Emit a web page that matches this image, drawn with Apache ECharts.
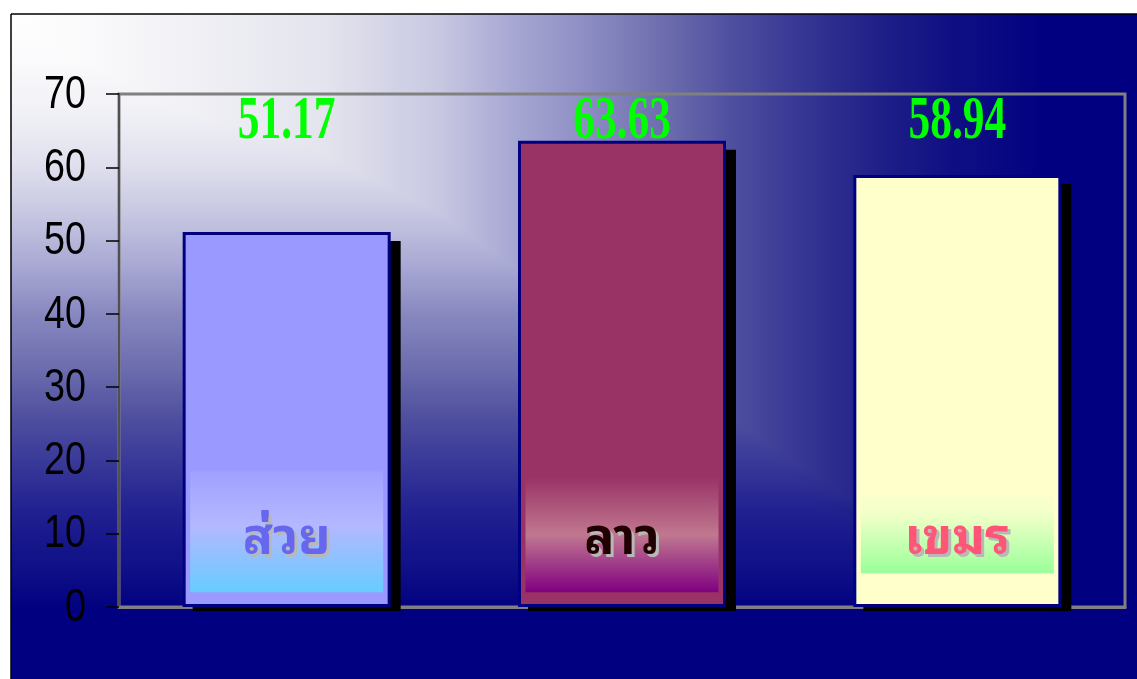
<!DOCTYPE html>
<html>
<head>
<meta charset="utf-8">
<script src="https://cdn.jsdelivr.net/npm/echarts@6/dist/echarts.min.js"></script>
<style>
html,body{margin:0;padding:0;background:#fff;}
#chart{width:1137px;height:679px;}
</style>
</head>
<body>
<div id="chart"></div>
<script>
// ---- data ----
var categories = ['ส่วย', 'ลาว', 'เขมร'];
var values = [51.17, 63.63, 58.94];
var yTicks = [0, 10, 20, 30, 40, 50, 60, 70];

// ---- styling ----
var barColors = ['#9999ff', '#993366', '#ffffcc'];
var boxStyles = [
  {top: 18.5, bottom: 2.0, stops: [['#a0a0ff', 0], ['#b4b8ff', 0.45], ['#66ccff', 1]], text: '#6666ee'},
  {top: 17.7, bottom: 2.0, stops: [['#993366', 0], ['#c07890', 0.5], ['#800080', 1]], text: '#200000'},
  {top: 15.9, bottom: 4.6, stops: [['#ffffcc', 0], ['#f0ffc8', 0.3], ['#99ff99', 1]], text: '#ff5577'}
];

var W = 1137, H = 679;
var bgL = 11, bgT = 14;
var ox = 12, oy = 14;

function stops(arr) {
  return arr.map(function (s) { return {offset: s[0], color: s[1]}; });
}
var hGrad = new echarts.graphic.LinearGradient(ox, 0, ox + 1040, 0, stops([
  [0, '#ffffff'], [0.093, '#f8f8fa'], [0.30, '#e4e4ee'], [0.41, '#c8c8e2'],
  [0.48, '#a8a8d4'], [0.55, '#8e8ec4'], [0.62, '#7070b0'], [0.69, '#5050a0'],
  [0.76, '#363694'], [0.83, '#202088'], [0.90, '#101084'], [1, '#000080']
]), true);
var vGrad = new echarts.graphic.LinearGradient(0, oy, 0, oy + 600, stops([
  [0, '#ffffff'], [0.08, '#fafafc'], [0.167, '#f0f0f6'], [0.25, '#e0e0ee'],
  [0.33, '#c8c8e2'], [0.42, '#a8a8d4'], [0.5, '#8888c0'], [0.58, '#7070b0'],
  [0.67, '#5050a0'], [0.75, '#383898'], [0.83, '#202090'], [0.92, '#101088'], [1, '#000080']
]), true);

var chart = echarts.init(document.getElementById('chart'));

chart.setOption({
  animation: false,
  graphic: [
    {
      type: 'rect', z: -100,
      shape: {x: bgL, y: bgT, width: W - bgL, height: H - bgT},
      style: {fill: hGrad}
    },
    {
      type: 'rect', z: -99,
      shape: {x: bgL, y: bgT, width: W - bgL, height: H - bgT},
      style: {fill: vGrad, blend: 'darken'}
    },
    {type: 'line', z: -98, shape: {x1: bgL, y1: bgT, x2: W, y2: bgT}, style: {stroke: '#000', lineWidth: 1.5}},
    {type: 'line', z: -98, shape: {x1: bgL, y1: bgT, x2: bgL, y2: H}, style: {stroke: '#000', lineWidth: 1.5}}
  ],
  grid: {
    left: 119, right: 12, top: 94, bottom: 72,
    show: true, borderColor: '#808080', borderWidth: 3, backgroundColor: 'transparent'
  },
  xAxis: {
    type: 'category', data: categories,
    axisLine: {show: true, lineStyle: {color: '#808080', width: 3}},
    axisTick: {show: false}, axisLabel: {show: false}, splitLine: {show: false}
  },
  yAxis: {
    type: 'value', min: yTicks[0], max: yTicks[yTicks.length - 1], interval: 10,
    axisLine: {show: true, lineStyle: {color: '#505050', width: 2}},
    axisTick: {show: true, length: 13, lineStyle: {color: '#000', width: 1.5}},
    splitLine: {show: false},
    axisLabel: {show: false}
  },
  series: [
    {
      // bar drop shadows
      type: 'custom', z: 1,
      data: values.map(function (v, i) { return [i, v]; }),
      renderItem: function (params, api) {
        var i = api.value(0);
        var top = api.coord([i, api.value(1)]);
        var bot = api.coord([i, 0]);
        var bw = 208;
        return {
          type: 'rect',
          shape: {x: top[0] - bw / 2 + 10, y: top[1] + 9, width: bw, height: bot[1] + 4 - (top[1] + 9)},
          style: {fill: '#000'}
        };
      }
    },
    {
      type: 'bar', data: values.map(function (v, i) {
        return {value: v, itemStyle: {color: barColors[i]}};
      }),
      barWidth: 208,
      itemStyle: {borderColor: '#000080', borderWidth: 3},
      z: 2
    },
    {
      // category label boxes inside bars
      type: 'custom', z: 5,
      data: categories.map(function (c, i) { return [i, 0]; }),
      renderItem: function (params, api) {
        var i = api.value(0);
        var s = boxStyles[i];
        var pTop = api.coord([i, s.top]);
        var pBot = api.coord([i, s.bottom]);
        var cx = pTop[0];
        var bw = 193;
        return {
          type: 'group',
          children: [
            {
              type: 'rect',
              shape: {x: cx - bw / 2, y: pTop[1], width: bw, height: pBot[1] - pTop[1]},
              style: {
                fill: new echarts.graphic.LinearGradient(0, 0, 0, 1, s.stops.map(function (st) {
                  return {offset: st[1], color: st[0]};
                }))
              }
            },
            {
              type: 'text',
              x: cx + 3, y: 543,
              style: {
                text: categories[i],
                fill: '#b8b8b8',
                font: 'bold 50px "Noto Sans Thai Looped", "Noto Sans Thai", Loma, Garuda, sans-serif',
                textAlign: 'center', textVerticalAlign: 'middle'
              }
            },
            {
              type: 'text',
              x: cx, y: 540,
              style: {
                text: categories[i],
                fill: s.text,
                font: 'bold 50px "Noto Sans Thai Looped", "Noto Sans Thai", Loma, Garuda, sans-serif',
                textAlign: 'center', textVerticalAlign: 'middle'
              }
            }
          ]
        };
      }
    },
    {
      // value labels
      type: 'custom', z: 6,
      data: values.map(function (v, i) { return [i, v]; }),
      renderItem: function (params, api) {
        var i = api.value(0);
        var p = api.coord([i, 66.2]);
        return {
          type: 'text',
          x: p[0], y: p[1], scaleX: 0.7,
          style: {
            text: api.value(1).toFixed(2),
            fill: '#00ff00',
            font: 'bold 62px "Liberation Serif", "Times New Roman", serif',
            textAlign: 'center', textVerticalAlign: 'middle'
          }
        };
      }
    },
    {
      // y-axis tick labels (condensed)
      type: 'custom', z: 6,
      data: yTicks.map(function (t) { return [0, t]; }),
      renderItem: function (params, api) {
        var p = api.coord([0, api.value(1)]);
        return {
          type: 'text',
          x: params.coordSys.x - 33, y: p[1] + 1, scaleX: 0.82,
          style: {
            text: String(api.value(1)),
            fill: '#000',
            font: '46px "Liberation Sans", Arial, sans-serif',
            textAlign: 'right', textVerticalAlign: 'middle'
          }
        };
      }
    }
  ]
});
</script>
</body>
</html>
